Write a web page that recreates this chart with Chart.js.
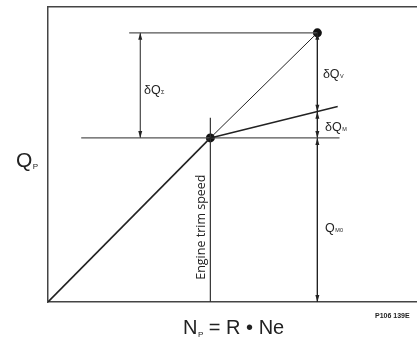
<!DOCTYPE html>
<html lang="en">

<head>
    <meta charset="UTF-8">
    <title>Engine trim speed</title>
    <style>
        body { margin: 0; background: #fff; }
    </style>
</head>

<body>
    <div style="width: 417px; height: 338px;">
        <canvas id="myChart"></canvas>
    </div>
    <script src="https://cdn.jsdelivr.net/npm/chart.js"></script>
    <script>
        // pump speed N_P (x) against delivery Q_P (y), schematic units
        const rampN = [0, 44, 73];
        const rampQ = [0, 44.5, 73];
        const trimN = [44, 78.5];
        const trimQ = [44.5, 53];
        const baseLevelN = [9, 79];
        const baseLevelQ = [44.5, 44.5];
        const topLevelN = [22, 73];
        const topLevelQ = [73, 73];
        const trimSpeedN = [44, 44];
        const trimSpeedQ = [0, 50];
        const dotN = [44, 73];
        const dotQ = [44.5, 73];
        // dimension arrows
        const sigmaN = [25, 25];
        const sigmaQ = [44.5, 73];
        const rightN = [73, 73];
        const vQ = [73, 51.6];
        const mQ = [51.6, 44.5];
        const m0Q = [44.5, 0];

        const ctx = document.getElementById('myChart');

        function pts(xs, ys) {
            let out = [];
            for (let i = 0; i < xs.length; i++) {
                out.push({ x: xs[i], y: ys[i] });
            }
            return out;
        }

        function line(xs, ys, width, color) {
            return {
                data: pts(xs, ys),
                showLine: true,
                borderColor: color,
                borderWidth: width,
                pointRadius: 0
            };
        }

        function arrow(xs, ys) {
            let d = line(xs, ys, 1, '#222');
            d.arrow = true;
            return d;
        }

        let ramp = line(rampN, rampQ, 1.6, '#222');
        ramp.segment = {
            borderWidth: c => c.p0DataIndex === 0 ? 1.6 : 1
        };

        // text with a subscript after it
        function subText(c, x, y, main, sub, size, subSize, drop) {
            c.font = size + 'px "Liberation Sans"';
            c.fillText(main, x, y);
            let w = c.measureText(main).width;
            c.font = subSize + 'px "Liberation Sans"';
            c.fillText(sub, x + w + 0.5, y + drop);
            return x + w + 0.5 + c.measureText(sub).width;
        }

        const labelPlugin = {
            id: 'labels',
            afterDatasetsDraw(chart) {
                const c = chart.ctx;
                const xs = chart.scales.x;
                const ys = chart.scales.y;
                const area = chart.chartArea;

                // arrow heads on both ends
                c.save();
                c.fillStyle = '#222';
                chart.data.datasets.forEach((ds, i) => {
                    if (!ds.arrow) return;
                    const m = chart.getDatasetMeta(i).data;
                    const a = m[0], b = m[m.length - 1];
                    [[a, b], [b, a]].forEach(([tip, from]) => {
                        const ang = Math.atan2(tip.y - from.y, tip.x - from.x);
                        const len = 7, hw = 2;
                        c.beginPath();
                        c.moveTo(tip.x, tip.y);
                        c.lineTo(tip.x - len * Math.cos(ang) - hw * Math.sin(ang), tip.y - len * Math.sin(ang) + hw * Math.cos(ang));
                        c.lineTo(tip.x - len * Math.cos(ang) + hw * Math.sin(ang), tip.y - len * Math.sin(ang) - hw * Math.cos(ang));
                        c.closePath();
                        c.fill();
                    });
                });
                c.restore();

                c.save();
                c.fillStyle = '#222';
                c.textBaseline = 'alphabetic';
                c.textAlign = 'left';
                subText(c, xs.getPixelForValue(74.5), ys.getPixelForValue(60.7), 'δQ', 'V', 12.5, 5.5, 0);
                subText(c, xs.getPixelForValue(26), ys.getPixelForValue(56.4), 'δQ', 'Σ', 12.5, 5.5, 0);
                subText(c, xs.getPixelForValue(75.1), ys.getPixelForValue(46.4), 'δQ', 'M', 12.5, 5.5, 0);
                subText(c, xs.getPixelForValue(75.1), ys.getPixelForValue(19), 'Q', 'M0', 12.5, 5.5, 0);

                // axis names
                subText(c, area.left - 32, ys.getPixelForValue(36.5), 'Q', 'P', 21, 8, 2);
                c.font = '20px "Liberation Sans"';
                const rest = ' = R • Ne';
                let wN = c.measureText('N').width;
                let wR = c.measureText(rest).width;
                c.font = '8px "Liberation Sans"';
                let wP = c.measureText('P').width + 0.5;
                let x0 = xs.getPixelForValue(50.3) - (wN + wP + wR) / 2;
                let x1 = subText(c, x0, area.bottom + 32, 'N', 'P', 20, 8, 3);
                c.font = '20px "Liberation Sans"';
                c.fillText(rest, x1, area.bottom + 32);

                c.font = 'bold 7px "Liberation Sans"';
                c.fillText('P106 139E', 375, area.bottom + 16);

                // trim speed line caption
                c.translate(xs.getPixelForValue(42.6), ys.getPixelForValue(20.3));
                c.rotate(-Math.PI / 2);
                c.textAlign = 'center';
                c.font = '12.5px "Open Sans"';
                c.fillText('Engine trim speed', 0, 0);
                c.restore();
            }
        };

        new Chart(ctx, {
            type: 'scatter',
            data: {
                datasets: [
                    ramp,
                    line(trimN, trimQ, 1.5, '#222'),
                    line(baseLevelN, baseLevelQ, 1.2, '#555'),
                    line(topLevelN, topLevelQ, 1.2, '#555'),
                    line(trimSpeedN, trimSpeedQ, 1.2, '#333'),
                    arrow(sigmaN, sigmaQ),
                    arrow(rightN, vQ),
                    arrow(rightN, mQ),
                    arrow(rightN, m0Q),
                    {
                        data: pts(dotN, dotQ),
                        pointRadius: 4.5,
                        backgroundColor: '#111',
                        borderWidth: 0
                    }
                ]
            },
            options: {
                responsive: true,
                maintainAspectRatio: false,
                animation: false,
                layout: {
                    autoPadding: false,
                    padding: { left: 48, right: 0, top: 7, bottom: 36 }
                },
                scales: {
                    x: {
                        min: 0, max: 100,
                        ticks: { display: false },
                        grid: { display: false, drawTicks: false },
                        border: { color: '#444', width: 1.5 }
                    },
                    xTop: {
                        position: 'top',
                        min: 0, max: 100,
                        ticks: { display: false },
                        grid: { display: false, drawTicks: false },
                        border: { color: '#444', width: 1.5 }
                    },
                    y: {
                        min: 0, max: 80,
                        ticks: { display: false },
                        grid: { display: false, drawTicks: false },
                        border: { color: '#444', width: 1.5 }
                    }
                },
                plugins: {
                    legend: { display: false },
                    tooltip: { enabled: false }
                }
            },
            plugins: [labelPlugin]
        });
    </script>
</body>

</html>
